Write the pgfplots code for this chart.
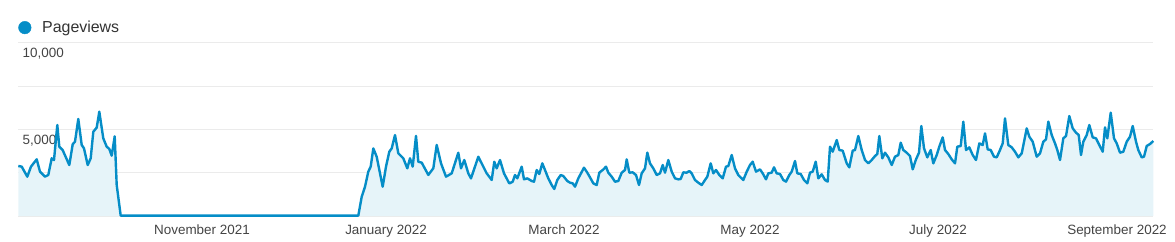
\documentclass[border=0pt]{standalone}
\usepackage{pgfplots}
\pgfplotsset{compat=1.18}
\usepackage{pgfplotstable}
\usepackage{fontspec}
\setmainfont{Liberation Sans}
\definecolor{gablue}{HTML}{058DC7}
\definecolor{gafill}{HTML}{E6F4F9}
\definecolor{gagrid}{HTML}{EBEBEB}
\definecolor{gatext}{HTML}{444444}
\definecolor{gabase}{HTML}{333333}
\pgfplotstableread{
x y
18.3 2885
21.7 2850
27.3 2270
31 2850
36.7 3270
40 2560
45 2270
48.3 2370
51.7 3330
54 3230
57.3 5250
59.3 4000
62.7 3800
69.3 2940
72.7 4140
75 4290
78.3 5600
81.7 4100
84 3900
87.7 2940
90.7 3330
93.3 4860
96.7 5100
99.3 6020
103.3 4480
106.7 4000
109.3 3870
111.7 3480
114.7 4600
116.7 1790
120.7 20
358.3 20
361.7 1110
365 1690
368.3 2560
370.7 2850
373.3 3900
376.7 3420
382.7 1690
386 2850
389.3 3710
391.7 3900
395 4670
398.3 3620
403.3 3330
407.3 2750
410 3330
412.7 2850
416 4620
418.3 3130
421.7 3080
428.3 2370
433.3 2750
436.7 4100
441 3040
446 2270
451.7 2460
458.3 3650
461 2750
464.3 3230
468.3 2460
471 2170
478.3 3420
486.7 2460
491.7 2080
494.3 3130
496.7 2750
500 3230
504 2460
509.3 1880
512.7 1980
515 2365
517.3 2173
521.7 2846
524 2115
527.3 2173
531.7 2019
534 1980
536.7 2654
539.3 2423
542.3 3038
545 2654
548.3 2173
551.7 1788
554.3 1558
557.3 2077
560.7 2365
563.3 2308
567.3 2019
570 1923
572.7 1885
575 1692
578.3 2173
584 2788
587.3 2500
590 2231
593.3 1885
596.7 1788
599.3 2500
602.7 2654
606 2846
608.3 2500
611.7 2269
615 1980
618.3 2019
621.7 2500
625 2654
626.7 3269
629.3 2500
632.7 2519
636 2365
639 1788
641.7 2462
645 2750
647.3 3654
650 3038
653.3 2750
656.7 2365
660 2462
662.7 2942
665 2500
668.3 3230
671.7 2558
675 2173
678.3 2115
680.7 2135
683.3 2519
686.7 2500
689.3 2596
691.7 2461
695 2077
698.3 1923
701.7 1788
705 2077
707.3 2269
710.7 3038
713.3 2461
716 2654
719.3 2365
722.7 2173
726 2846
728.3 2885
731.7 3519
735 2750
738.3 2365
743.3 2077
746.7 2558
750 2942
752.7 3135
756 2558
760 2692
762.7 2461
766 2115
768.3 2461
771.7 2500
774 2808
776.7 2461
780 2423
783.3 2077
786 1981
789.3 2365
791.7 2558
795 3173
797.3 2461
800.7 2423
804 2077
807.3 1885
810 2500
812.7 2558
815.7 3135
818.3 2173
821.7 2404
825 2077
827.7 1981
830 4000
832.7 3711
836.7 4384
839.3 3807
842.7 3769
846.7 3038
849.3 2808
852.7 3769
855 3807
858.3 4615
861.7 3807
865 3231
868.3 3038
871.7 3231
875 3461
877.3 3577
879.3 4615
882.3 3327
885 3654
888.3 3384
891.7 2942
895 3423
898.3 3519
900.7 4231
903.3 3807
906.7 3654
910 3461
912.7 2692
916 3269
919 3654
921.3 5192
924 3904
927.3 3384
930.7 3807
933.3 3038
936.7 3519
939.3 4000
942.7 4538
945 3807
948.3 3577
951.7 3269
955 3038
957.3 4000
960.7 4038
963.3 5442
966 3807
969.3 3961
972.7 3519
976 3231
979.3 4192
982.7 4096
985 4769
987.7 3846
990.7 3807
994 3423
996.7 3384
1000 3807
1002.7 4192
1005 5634
1008.3 4096
1011.7 3961
1015 3711
1018.3 3384
1021.7 3615
1026.7 5057
1029.3 4577
1032.7 4288
1036.7 3423
1040 3615
1043.3 4288
1046 4423
1048.3 5442
1051.7 4673
1055 4192
1057.3 3807
1060 3231
1063.3 4481
1066 4615
1069.3 5769
1072.7 5057
1076 4808
1078.7 4673
1081 3519
1083.3 4288
1086.7 4673
1089.3 5250
1092.7 4538
1096 4481
1099.3 4096
1102.7 3711
1105 5115
1107.3 4481
1110.7 5961
1114 4481
1116.7 4192
1120 3654
1123.3 3711
1126.7 4288
1130 4577
1132.7 5192
1136 4288
1138.3 3807
1141.7 3384
1144 3423
1146.7 4038
1150 4154
1153.3 4327
}\pageviews
\begin{document}
\begin{tikzpicture}
\useasboundingbox (-18bp,-26bp) rectangle (1157bp,216bp);
\begin{axis}[
  scale only axis,
  width=1135.3bp, height=173.3bp,
  xmin=18, xmax=1153.3, ymin=0, ymax=10000,
  axis line style={draw=none},
  clip=false,
  scaled y ticks=false,
  xtick={202,386,564,750,938,1117},
  xticklabels={November 2021,January 2022,March 2022,May 2022,July 2022,September 2022},
  ytick={2500,5000,7500,10000},
  yticklabels={,{5,000},,{10,000}},
  extra y ticks={0},
  extra y tick labels={},
  extra y tick style={grid style={draw=gabase, line width=1.1bp}},
  major tick length=0pt,
  tick style={draw=none},
  ymajorgrids=true,
  xmajorgrids=false,
  major grid style={draw=gagrid, line width=1bp},
  xticklabel style={anchor=north, inner sep=0pt, yshift=-8.5bp, text=gatext, font=\fontsize{13.5}{16}\selectfont},
  yticklabel style={anchor=north west, inner sep=0pt, xshift=4.5bp, yshift=-5.3bp, text=gatext, font=\fontsize{13.5}{16}\selectfont},
  legend style={at={(0.0003,1.087)}, anchor=west, draw=none, fill=none, inner sep=0pt, outer sep=0pt,
    column sep=10.8bp, nodes={inner sep=0pt}, font=\fontsize{16}{19}\selectfont, text=gabase},
  legend image code/.code={\fill[gablue] (6.3bp,0bp) circle (6.3bp);},
]
\addplot[fill=gafill, draw=none, forget plot] table[x=x,y=y]{\pageviews} \closedcycle;
\addplot[draw=gablue, line width=2.4bp, line join=round, forget plot] table[x=x,y=y]{\pageviews};
\addlegendimage{gablue}
\addlegendentry{Pageviews}
\end{axis}
\end{tikzpicture}
\end{document}
